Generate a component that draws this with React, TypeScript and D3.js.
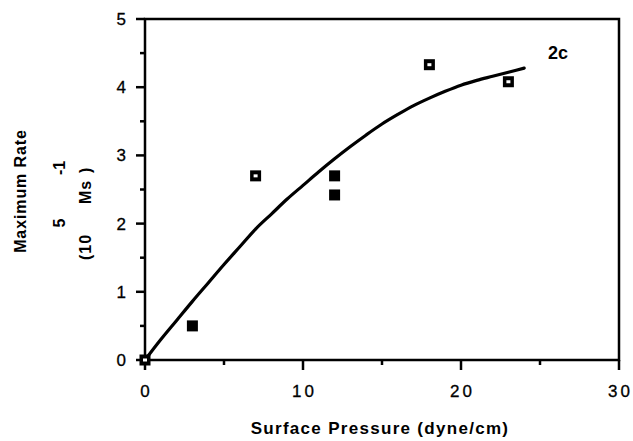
import React from "react";
import * as d3 from "d3";

const curveX = [0, 1, 2, 3, 4, 5, 6, 7, 8, 9, 10, 11, 12, 13, 14, 15, 16, 17, 18, 19, 20, 21, 22, 23, 24];
const curveY = [0, 0.3, 0.58, 0.86, 1.13, 1.4, 1.66, 1.92, 2.14, 2.36, 2.56, 2.76, 2.95, 3.13, 3.3, 3.46, 3.6, 3.73, 3.84, 3.94, 4.03, 4.1, 4.16, 4.22, 4.28];

const pointX = [0, 3, 7, 12, 12, 18, 23];
const pointY = [0, 0.5, 2.7, 2.7, 2.42, 4.33, 4.08];
const pointOpen = [true, false, true, false, false, true, true];

const xTicks = [0, 10, 20, 30];
const xMinor = [5, 15, 25];
const yTicks = [0, 1, 2, 3, 4, 5];
const yMinor = [0.5, 1.5, 2.5, 3.5, 4.5];

export default function App() {
  const W = 633, H = 441;
  const x = d3.scaleLinear().domain([0, 30]).range([145, 619]);
  const y = d3.scaleLinear().domain([0, 5]).range([360, 19]);
  const line = d3.line<number>().x((d, i) => x(curveX[i])).y((d) => y(d)).curve(d3.curveMonotoneX);
  const font = "Arial, 'Liberation Sans', Helvetica, sans-serif";
  return (
    <svg width={W} height={H} style={{ position: "absolute", left: 0, top: 0, background: "#fff" }}>
      <rect x={0} y={0} width={W} height={H} fill="#fff" />
      {/* frame */}
      <path d={`M${x(0)},${y(5)} L${x(30)},${y(5)} L${x(30)},${y(0)} L${x(0)},${y(0)} Z`} fill="none" stroke="#000" strokeWidth={2.5} />
      {/* y ticks */}
      {yTicks.map((t) => (
        <g key={"y" + t}>
          <line x1={x(0) - 9} x2={x(0)} y1={y(t)} y2={y(t)} stroke="#000" strokeWidth={2.5} />
          <text x={126} y={y(t) + 6} textAnchor="end" fontFamily={font} fontSize={17} fill="#000" stroke="#000" strokeWidth={0.3}>{t}</text>
        </g>
      ))}
      {yMinor.map((t) => (
        <line key={"ym" + t} x1={x(0) - 5} x2={x(0)} y1={y(t)} y2={y(t)} stroke="#000" strokeWidth={2.5} />
      ))}
      {/* x ticks */}
      {xTicks.map((t) => (
        <g key={"x" + t}>
          <line x1={x(t)} x2={x(t)} y1={y(0)} y2={y(0) + 10} stroke="#000" strokeWidth={2.5} />
          <text x={x(t) + 1.5} y={397} textAnchor="middle" fontFamily={font} fontSize={17} letterSpacing={3} fill="#000" stroke="#000" strokeWidth={0.3}>{t}</text>
        </g>
      ))}
      {xMinor.map((t) => (
        <line key={"xm" + t} x1={x(t)} x2={x(t)} y1={y(0)} y2={y(0) + 5} stroke="#000" strokeWidth={2.5} />
      ))}
      {/* curve */}
      <path d={line(curveY) || ""} fill="none" stroke="#000" strokeWidth={3.2} strokeLinecap="round" />
      {/* points */}
      {pointX.map((px, i) => (
        <g key={"p" + i}>
          <rect x={x(px) - 5.5} y={y(pointY[i]) - 5.5} width={11} height={11} fill="#000" />
          {pointOpen[i] && (
            <rect x={x(px) - 2} y={y(pointY[i]) - 1.5} width={4} height={3} fill="#fff" />
          )}
        </g>
      ))}
      <text x={548} y={59} fontFamily={font} fontSize={18} fontWeight="bold" fill="#000">2c</text>
      {/* axis titles */}
      <text x={380} y={434} textAnchor="middle" fontFamily={font} fontSize={17} fontWeight="bold" letterSpacing={1.3} fill="#000">Surface Pressure (dyne/cm)</text>
      <text transform="translate(26,191) rotate(-90)" textAnchor="middle" fontFamily={font} fontSize={16} fontWeight="bold" letterSpacing={0.9} fill="#000">Maximum Rate</text>
      <text transform="translate(91,260) rotate(-90)" textAnchor="start" fontFamily={font} fontSize={16} fontWeight="bold" letterSpacing={1} fill="#000">(10</text>
      <text transform="translate(91,204) rotate(-90)" textAnchor="start" fontFamily={font} fontSize={16} fontWeight="bold" letterSpacing={1} fill="#000">Ms</text>
      <text transform="translate(91,173) rotate(-90)" textAnchor="start" fontFamily={font} fontSize={16} fontWeight="bold" fill="#000">)</text>
      <text transform="translate(65,223) rotate(-90)" textAnchor="middle" fontFamily={font} fontSize={16} fontWeight="bold" fill="#000">5</text>
      <text transform="translate(65,168) rotate(-90)" textAnchor="middle" fontFamily={font} fontSize={16} fontWeight="bold" fill="#000">-1</text>
    </svg>
  );
}
